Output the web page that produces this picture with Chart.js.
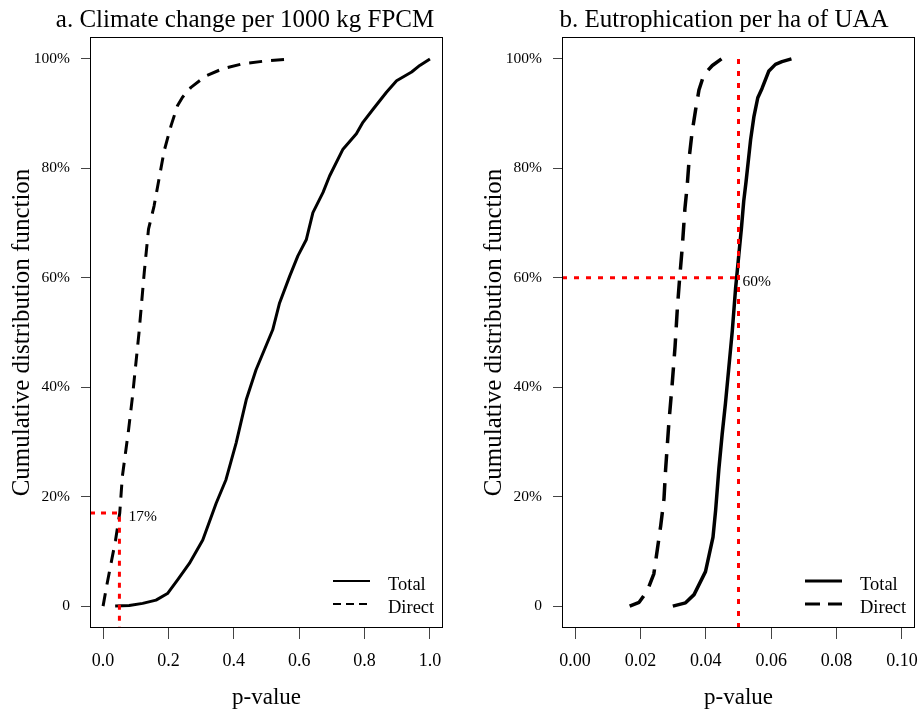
<!DOCTYPE html>
<html>
<head>
<meta charset="utf-8">
<title>Cumulative distribution of p-values</title>
<script src="https://cdn.jsdelivr.net/npm/chart.js@4.4.1/dist/chart.umd.min.js"></script>
<style>
  html, body { margin: 0; padding: 0; background: #fff; }
  #wrap { position: relative; width: 923px; height: 711px; overflow: hidden; }
  #wrap canvas { position: absolute; top: 0; }
</style>
</head>
<body>
<div id="wrap">
  <canvas id="chartA" width="461" height="711" style="left:0"></canvas>
  <canvas id="chartB" width="451" height="711" style="left:472px"></canvas>
</div>
<script>
// a. climate change per 1000 kg FPCM
const climTotalP   = [0.037, 0.080, 0.121, 0.162, 0.197, 0.228, 0.264, 0.305, 0.346, 0.376, 0.407, 0.438, 0.468, 0.519, 0.540, 0.571, 0.596, 0.622, 0.642, 0.673, 0.693, 0.734, 0.775, 0.795, 0.826, 0.867, 0.898, 0.944, 0.969, 1.0];
const climTotalCdf = [0, 0.001, 0.005, 0.011, 0.023, 0.048, 0.078, 0.121, 0.188, 0.231, 0.298, 0.377, 0.432, 0.505, 0.554, 0.603, 0.640, 0.670, 0.719, 0.756, 0.786, 0.835, 0.863, 0.884, 0.908, 0.939, 0.960, 0.976, 0.988, 1.0];
const climDirectP   = [0, 0.012, 0.025, 0.038, 0.051, 0.059, 0.078, 0.090, 0.110, 0.126, 0.139, 0.156, 0.170, 0.187, 0.208, 0.228, 0.243, 0.269, 0.315, 0.366, 0.427, 0.494, 0.581];
const climDirectCdf = [0, 0.04, 0.08, 0.12, 0.17, 0.237, 0.322, 0.383, 0.50, 0.61, 0.689, 0.731, 0.777, 0.832, 0.878, 0.915, 0.930, 0.948, 0.969, 0.982, 0.991, 0.996, 1.0];

// b. eutrophication per ha of UAA
const eutroTotalP   = [0.0299, 0.0338, 0.0364, 0.0399, 0.0422, 0.0430, 0.0440, 0.0450, 0.0460, 0.0470, 0.0481, 0.0491, 0.0501, 0.0509, 0.0516, 0.0523, 0.0537, 0.0547, 0.0559, 0.0572, 0.0593, 0.0613, 0.0633, 0.0662];
const eutroTotalCdf = [0, 0.006, 0.021, 0.063, 0.126, 0.175, 0.251, 0.314, 0.370, 0.433, 0.503, 0.580, 0.642, 0.691, 0.740, 0.775, 0.852, 0.894, 0.929, 0.946, 0.978, 0.990, 0.995, 1.0];
const eutroDirectP   = [0.0167, 0.0196, 0.0221, 0.0241, 0.0252, 0.0262, 0.0272, 0.0277, 0.0287, 0.0297, 0.0306, 0.0313, 0.0320, 0.0328, 0.0336, 0.0343, 0.0350, 0.0358, 0.0369, 0.0379, 0.0394, 0.0420, 0.0448];
const eutroDirectCdf = [0, 0.007, 0.028, 0.059, 0.105, 0.147, 0.196, 0.25, 0.335, 0.405, 0.475, 0.545, 0.60, 0.656, 0.726, 0.768, 0.824, 0.866, 0.908, 0.943, 0.971, 0.988, 1.0];

const seriesNames = ['Total', 'Direct'];
const cdfTicks = [0, 0.2, 0.4, 0.6, 0.8, 1];
const cdfTickLabels = ['0', '20%', '40%', '60%', '80%', '100%'];
const pTicksA = [0, 0.2, 0.4, 0.6, 0.8, 1];
const pTickLabelsA = ['0.0', '0.2', '0.4', '0.6', '0.8', '1.0'];
const pTicksB = [0, 0.02, 0.04, 0.06, 0.08, 0.1];
const pTickLabelsB = ['0.00', '0.02', '0.04', '0.06', '0.08', '0.10'];

const alpha = 0.05;          // significance threshold
const shareBelowA = 0.17;    // Direct, panel a
const shareBelowB = 0.60;    // Total, panel b

const serif = "'Liberation Serif', 'Times New Roman', Times, serif";
const pts = (xs, ys) => xs.map((x, i) => ({ x: x, y: ys[i] }));

// axis ranges padded 4% like base R
const cdfMin = -0.04, cdfMax = 1.04;

// box, title, note and legend drawn on top of the chart
const panelDecor = {
  id: 'panelDecor',
  afterDraw(chart, args, o) {
    const { ctx, chartArea: a, scales } = chart;
    ctx.save();
    ctx.strokeStyle = '#000';
    ctx.lineWidth = 1;
    ctx.strokeRect(a.left + 0.5, a.top + 0.5, a.right - a.left - 1, a.bottom - a.top - 1);

    ctx.fillStyle = '#000';
    ctx.font = '25px ' + serif;
    ctx.textAlign = 'center';
    ctx.textBaseline = 'alphabetic';
    ctx.fillText(o.title, o.titleX, 27);

    ctx.font = '15.5px ' + serif;
    ctx.textAlign = 'left';
    ctx.textBaseline = 'middle';
    ctx.fillText(o.note, scales.x.getPixelForValue(o.noteAt[0]) + o.noteDx,
                 scales.y.getPixelForValue(o.noteAt[1]) + 4);

    // legend, bottom right
    const rows = [{ dash: [], y: a.bottom - 47 }, { dash: o.legendDash, y: a.bottom - 24 }];
    chart.data.datasets.filter(d => d.label).forEach((d, i) => {
      ctx.beginPath();
      ctx.setLineDash(rows[i].dash);
      ctx.lineWidth = o.legendLw;
      ctx.strokeStyle = '#000';
      ctx.moveTo(a.right - 110, rows[i].y);
      ctx.lineTo(a.right - 73, rows[i].y);
      ctx.stroke();
      ctx.setLineDash([]);
      ctx.font = '18.5px ' + serif;
      ctx.textBaseline = 'alphabetic';
      ctx.fillText(d.label, a.right - 55, rows[i].y + 9);
    });
    ctx.restore();
  }
};

function buildPanel(id, p) {
  const line = (data, extra) => Object.assign({
    data: data, showLine: true, pointRadius: 0, borderColor: '#000',
    borderJoinStyle: 'round', tension: 0
  }, extra);
  const refLines = p.refLines.map(r => line(r, {
    borderColor: '#ff0000', borderWidth: 3, borderDash: p.dotDash, borderJoinStyle: 'miter'
  }));
  return new Chart(document.getElementById(id), {
    type: 'scatter',
    data: {
      datasets: refLines.concat([
        line(p.total, { label: seriesNames[0], borderWidth: p.lw }),
        line(p.direct, { label: seriesNames[1], borderWidth: p.lw, borderDash: p.dash })
      ])
    },
    options: {
      responsive: false,
      animation: false,
      events: [],
      layout: { padding: { top: 37, right: p.padRight, left: 0, bottom: 0 } },
      plugins: {
        legend: { display: false },
        tooltip: { enabled: false },
        panelDecor: p.decor
      },
      scales: {
        x: {
          type: 'linear', min: p.xMin, max: p.xMax,
          afterBuildTicks: s => { s.ticks = p.xTicks.map(v => ({ value: v })); },
          afterFit: s => { s.height = 83; s.paddingLeft = 0; s.paddingRight = 0; },
          border: { display: false },
          grid: { drawOnChartArea: false, drawTicks: true, tickLength: 11, tickColor: '#444' },
          ticks: {
            autoSkip: false, maxRotation: 0, padding: 11, color: '#000',
            font: { family: serif, size: 18 },
            callback: (v, i) => p.xLabels[i]
          },
          title: {
            display: true, text: 'p-value', color: '#000',
            font: { family: serif, size: 23, lineHeight: 1 },
            padding: { top: 0, bottom: 2 }
          }
        },
        y: {
          type: 'linear', min: cdfMin, max: cdfMax,
          afterBuildTicks: s => { s.ticks = cdfTicks.map(v => ({ value: v })); },
          afterFit: s => { s.width = 90; s.paddingTop = 0; s.paddingBottom = 0; },
          border: { display: false },
          grid: { drawOnChartArea: false, drawTicks: true, tickLength: 9, tickColor: '#444' },
          ticks: {
            autoSkip: false, padding: 11, color: '#000',
            font: { family: serif, size: 15.5 },
            callback: (v, i) => cdfTickLabels[i]
          },
          title: {
            display: true, text: 'Cumulative distribution function', color: '#000',
            font: { family: serif, size: 25, lineHeight: 1 },
            padding: { top: 10, bottom: 0 }
          }
        }
      }
    },
    plugins: [panelDecor]
  });
}

buildPanel('chartA', {
  xMin: -0.04, xMax: 1.04, xTicks: pTicksA, xLabels: pTickLabelsA, padRight: 18,
  total: pts(climTotalP, climTotalCdf),
  direct: pts(climDirectP, climDirectCdf),
  lw: 3, dash: [13, 9], dotDash: [5, 6],
  refLines: [[{ x: -0.04, y: shareBelowA }, { x: alpha, y: shareBelowA }, { x: alpha, y: cdfMin }]],
  decor: { title: 'a. Climate change per 1000 kg FPCM', titleX: 245, note: '17%',
           noteAt: [alpha, shareBelowA], noteDx: 9, legendLw: 2, legendDash: [8, 5] }
});

buildPanel('chartB', {
  xMin: -0.004, xMax: 0.104, xTicks: pTicksB, xLabels: pTickLabelsB, padRight: 8,
  total: pts(eutroTotalP, eutroTotalCdf),
  direct: pts(eutroDirectP, eutroDirectCdf),
  lw: 3.5, dash: [18, 11], dotDash: [5, 7],
  refLines: [
    [{ x: -0.004, y: shareBelowB }, { x: alpha, y: shareBelowB }],
    [{ x: alpha, y: 1 }, { x: alpha, y: cdfMin }]
  ],
  decor: { title: 'b. Eutrophication per ha of UAA', titleX: 252, note: '60%',
           noteAt: [alpha, shareBelowB], noteDx: 4, legendLw: 3, legendDash: [15, 8] }
});
</script>
</body>
</html>
